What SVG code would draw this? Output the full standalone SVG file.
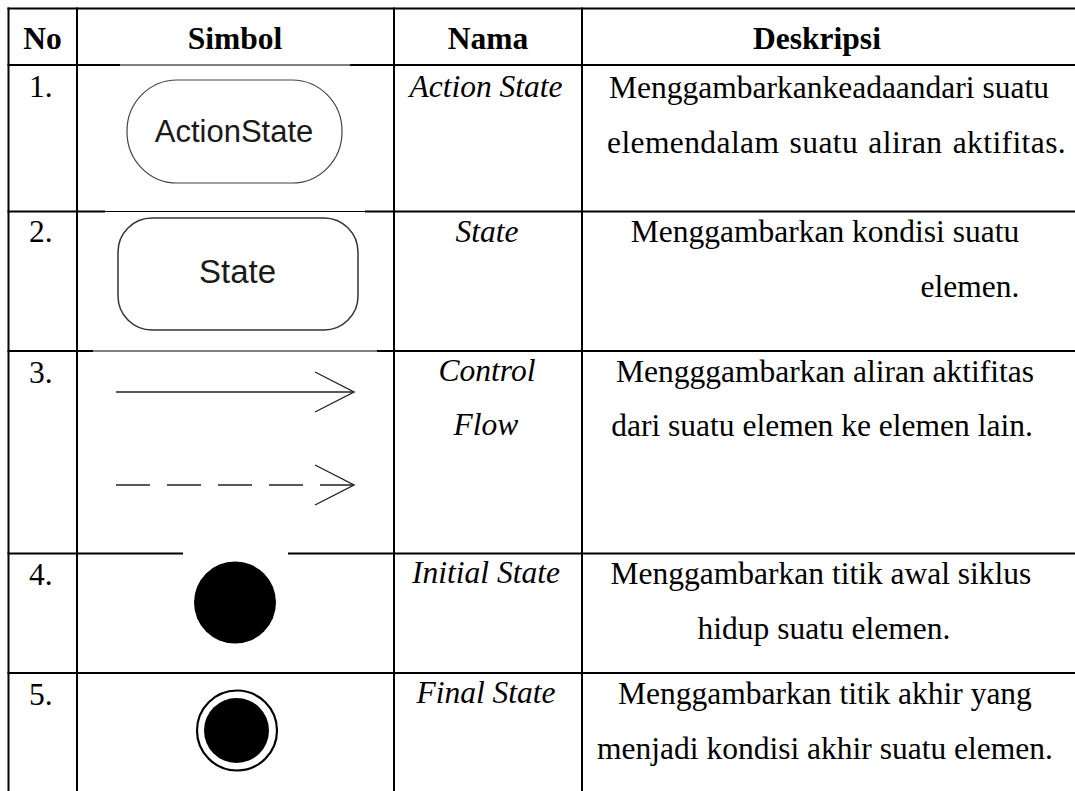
<svg xmlns="http://www.w3.org/2000/svg" width="1075" height="791" viewBox="0 0 1075 791">
<style>
.grid{stroke:#000;stroke-width:2;fill:none}
.thin{stroke:#000;stroke-width:1;fill:none}
.h{font-family:"Liberation Serif","Times New Roman",serif;font-weight:bold;font-size:31.5px;fill:#000}
.t{font-family:"Liberation Serif","Times New Roman",serif;font-size:31.5px;fill:#000}
.i{font-family:"Liberation Serif","Times New Roman",serif;font-style:italic;font-size:31.5px;fill:#000}
.c{text-anchor:middle}
.sym{font-family:"Liberation Sans",Arial,sans-serif;fill:#1a1a1a;text-anchor:middle}
.arr{stroke:#222;stroke-width:1.4;fill:none}
</style>
<rect width="1075" height="791" fill="#fff"/>
<g id="grid">
<line class="grid" x1="8.5" y1="7.5" x2="8.5" y2="791"/>
<line class="grid" x1="77" y1="7.5" x2="77" y2="791"/>
<line class="grid" x1="394" y1="7.5" x2="394" y2="791"/>
<line class="grid" x1="582" y1="7.5" x2="582" y2="791"/>
<line class="grid" x1="7.5" y1="8.5" x2="1075" y2="8.5"/>
<line class="grid" x1="7.5" y1="65" x2="120" y2="65"/>
<line class="thin" x1="120" y1="65" x2="350" y2="65"/>
<line class="grid" x1="350" y1="65" x2="1075" y2="65"/>
<line class="grid" x1="7.5" y1="211.5" x2="105" y2="211.5"/>
<line class="thin" x1="105" y1="211.5" x2="365" y2="211.5"/>
<line class="grid" x1="365" y1="211.5" x2="1075" y2="211.5"/>
<line class="grid" x1="7.5" y1="351" x2="93" y2="351"/>
<line class="thin" x1="93" y1="351" x2="377" y2="351"/>
<line class="grid" x1="377" y1="351" x2="1075" y2="351"/>
<line class="grid" x1="7.5" y1="553.5" x2="183" y2="553.5"/>
<line class="grid" x1="288" y1="553.5" x2="1075" y2="553.5"/>
<line class="grid" x1="7.5" y1="673" x2="1075" y2="673"/>
</g>
<g id="header">
<text class="h c" x="42.5" y="49">No</text>
<text class="h c" x="235" y="49">Simbol</text>
<text class="h c" x="488" y="49">Nama</text>
<text class="h c" x="817" y="49">Deskripsi</text>
</g>
<g id="row1">
<text class="t" x="29" y="97">1.</text>
<g id="action-state">
<rect x="127" y="80" width="215" height="103" rx="50" ry="51" fill="#fff" stroke="#444" stroke-width="1.2"/>
<text class="sym" x="234" y="142" font-size="31">ActionState</text>
</g>
<text class="i c" x="486" y="97">Action State</text>
<text class="t" x="609" y="98">Menggambarkankeadaandari suatu</text>
<text class="t" x="607" y="153" letter-spacing="0.4" word-spacing="2">elemendalam suatu aliran aktifitas.</text>
</g>
<g id="row2">
<text class="t" x="29" y="242">2.</text>
<g id="state">
<rect x="118" y="218" width="240" height="112" rx="34" fill="#fff" stroke="#333" stroke-width="1.5"/>
<text class="sym" x="237.5" y="283" font-size="33">State</text>
</g>
<text class="i c" x="487" y="242">State</text>
<text class="t c" x="825" y="242">Menggambarkan kondisi suatu</text>
<text class="t c" x="970" y="297">elemen.</text>
</g>
<g id="row3">
<text class="t" x="29" y="383">3.</text>
<g id="control-flow">
<line class="arr" x1="116" y1="392" x2="353" y2="392"/>
<polyline class="arr" points="315,372 354,392 315,412"/>
<line class="arr" x1="116" y1="485" x2="353" y2="485" stroke-dasharray="34 17"/>
<polyline class="arr" points="315,465 354,485 315,505"/>
</g>
<text class="i c" x="487" y="381">Control</text>
<text class="i c" x="486" y="435">Flow</text>
<text class="t c" x="825" y="382">Mengggambarkan aliran aktifitas</text>
<text class="t c" x="822" y="436">dari suatu elemen ke elemen lain.</text>
</g>
<g id="row4">
<text class="t" x="29" y="585">4.</text>
<g id="initial-state">
<circle cx="235" cy="602.5" r="41" fill="#000"/>
</g>
<text class="i c" x="486" y="583">Initial State</text>
<text class="t c" x="821" y="584">Menggambarkan titik awal siklus</text>
<text class="t c" x="824" y="639">hidup suatu elemen.</text>
</g>
<g id="row5">
<text class="t" x="29" y="705">5.</text>
<g id="final-state">
<circle cx="237" cy="730.5" r="40" fill="none" stroke="#000" stroke-width="2.2"/>
<circle cx="236.5" cy="730.5" r="32.5" fill="#000"/>
</g>
<text class="i c" x="486" y="703">Final State</text>
<text class="t c" x="825" y="704">Menggambarkan titik akhir yang</text>
<text class="t c" x="825" y="759">menjadi kondisi akhir suatu elemen.</text>
</g>
</svg>
